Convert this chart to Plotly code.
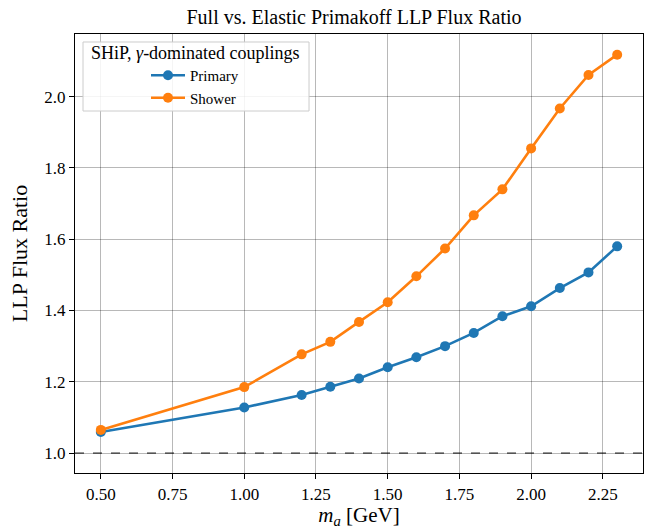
import plotly.graph_objects as go

# Data
m_a = [0.5, 1.0, 1.2, 1.3, 1.4, 1.5, 1.6, 1.7, 1.8, 1.9, 2.0, 2.1, 2.2, 2.3]
primary = [1.059, 1.128, 1.163, 1.186, 1.209, 1.241, 1.269, 1.300, 1.337, 1.384, 1.412, 1.463, 1.507, 1.580]
shower = [1.065, 1.185, 1.277, 1.312, 1.368, 1.423, 1.496, 1.574, 1.667, 1.740, 1.855, 1.967, 2.061, 2.118]
reference_level = 1.0

x_ticks = [0.50, 0.75, 1.00, 1.25, 1.50, 1.75, 2.00, 2.25]
y_ticks = [1.0, 1.2, 1.4, 1.6, 1.8, 2.0]

legend_title = "SHiP, <i>γ</i>-dominated couplings"

FONT = "Liberation Serif"

fig = go.Figure()
fig.add_trace(go.Scatter(
    x=m_a, y=primary, mode="lines+markers", name="Primary",
    line=dict(color="#1f77b4", width=2.6),
    marker=dict(color="#1f77b4", size=10),
))
fig.add_trace(go.Scatter(
    x=m_a, y=shower, mode="lines+markers", name="Shower",
    line=dict(color="#ff7f0e", width=2.6),
    marker=dict(color="#ff7f0e", size=10),
))
fig.add_hline(y=reference_level, line=dict(color="rgba(90,90,90,0.85)", width=1.8, dash="dash"), layer="below")

# legend frame + centered legend title (matplotlib style)
fig.add_shape(type="rect", xref="paper", yref="paper",
              x0=0.0141, x1=0.412, y0=0.8246, y1=0.9818,
              fillcolor="rgba(255,255,255,0.85)", line=dict(color="#cccccc", width=1),
              layer="above")
fig.add_annotation(text=legend_title, xref="paper", yref="paper",
                   x=0.213, y=0.957, xanchor="center", yanchor="middle", showarrow=False,
                   font=dict(family=FONT, size=18, color="black"))

axis_common = dict(
    showline=True, linecolor="black", linewidth=1.2, mirror=True,
    ticks="outside", ticklen=5, tickwidth=1.1, tickcolor="black",
    showgrid=True, gridcolor="rgba(0,0,0,0.28)", gridwidth=1,
    zeroline=False, automargin=False,
    tickfont=dict(family=FONT, size=17, color="black"),
)

fig.update_layout(
    width=646, height=529,
    margin=dict(l=75, r=3, t=34, b=56),
    paper_bgcolor="white", plot_bgcolor="white",
    title=dict(text="Full vs. Elastic Primakoff LLP Flux Ratio", x=0.548, xanchor="center",
               y=0.968, yanchor="middle",
               font=dict(family=FONT, size=20, color="black")),
    xaxis=dict(axis_common, range=[0.41, 2.39], tickvals=x_ticks, tickformat=".2f",
               title=dict(text="<i>m</i><sub><i>a</i></sub> [GeV]", standoff=14,
                          font=dict(family=FONT, size=21, color="black"))),
    yaxis=dict(axis_common, range=[0.944, 2.176], tickvals=y_ticks, tickformat=".1f",
               title=dict(text="LLP Flux Ratio", standoff=10,
                          font=dict(family=FONT, size=22, color="black"))),
    legend=dict(
        x=0.125, y=0.943, xanchor="left", yanchor="top",
        bgcolor="rgba(0,0,0,0)", borderwidth=0,
        font=dict(family=FONT, size=15, color="black"),
        itemwidth=34, tracegroupgap=0,
    ),
    showlegend=True,
)

fig.write_html("out.html")
